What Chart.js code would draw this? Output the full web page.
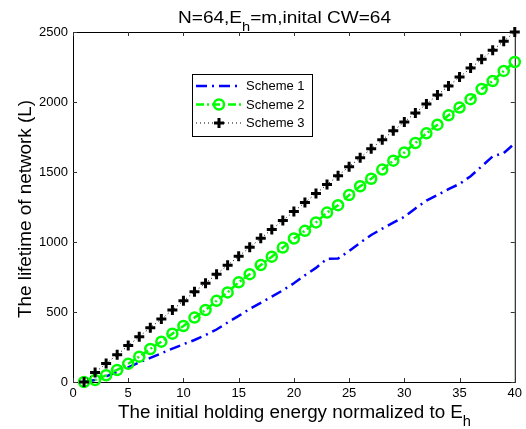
<!DOCTYPE html>
<html>
<head>
<meta charset="utf-8">
<script src="https://cdn.jsdelivr.net/npm/chart.js@4.4.1/dist/chart.umd.min.js"></script>
<style>
  html, body { margin: 0; padding: 0; background: #fff; }
  #wrap { width: 526px; height: 429px; }
</style>
</head>
<body>
<div id="wrap"><canvas id="lifeChart" width="526" height="429"></canvas></div>
<script>
const xValues = [1, 2, 3, 4, 5, 6, 7, 8, 9, 10, 11, 12, 13, 14, 15, 16, 17, 18, 19, 20,
                 21, 22, 23, 24, 25, 26, 27, 28, 29, 30, 31, 32, 33, 34, 35, 36, 37, 38, 39, 40];
const scheme1 = [0, 15, 40, 72, 105, 140, 172, 205, 238, 270, 300, 335, 375, 425, 472, 522, 565, 610, 655, 705,
                 762, 815, 880, 882, 935, 995, 1050, 1095, 1138, 1180, 1240, 1295, 1335, 1378, 1415, 1470, 1540, 1612, 1635, 1705];
const scheme2 = [0, 14, 48, 86, 130, 181, 236, 288, 345, 400, 460, 514, 580, 640, 712, 770, 835, 895, 960, 1025,
                 1080, 1140, 1210, 1263, 1335, 1398, 1452, 1517, 1581, 1640, 1707, 1776, 1838, 1905, 1960, 2020, 2093, 2150, 2222, 2286];
const scheme3 = [0, 68, 132, 194, 260, 324, 388, 450, 514, 580, 644, 706, 770, 834, 898, 962, 1026, 1090, 1154, 1218,
                 1282, 1346, 1410, 1474, 1538, 1602, 1666, 1730, 1794, 1858, 1922, 1986, 2050, 2114, 2178, 2242, 2306, 2370, 2434, 2500];
const seriesNames = ['Scheme 1', 'Scheme 2', 'Scheme 3'];
const xTicks = [0, 5, 10, 15, 20, 25, 30, 35, 40];
const yTicks = [0, 500, 1000, 1500, 2000, 2500];

const FONT = "'Liberation Sans', Arial, Helvetica, sans-serif";

function toPoints(ys) {
    return xValues.map((x, i) => ({ x: x, y: ys[i] }));
}

// draws text made of normal/subscript parts, stretched to a target width
function drawParts(ctx, parts, x, y, size, subSize, width) {
    let total = 0;
    parts.forEach(p => {
        ctx.font = (p.sub ? subSize : size) + 'px ' + FONT;
        p.w = ctx.measureText(p.t).width;
        total += p.w;
    });
    const sx = width / total;
    ctx.save();
    ctx.translate(x, y);
    ctx.scale(sx, 1);
    ctx.fillStyle = '#000';
    ctx.textBaseline = 'alphabetic';
    ctx.textAlign = 'left';
    let cx = 0;
    parts.forEach(p => {
        ctx.font = (p.sub ? subSize : size) + 'px ' + FONT;
        ctx.fillText(p.t, cx, p.sub ? 8 : 0);
        cx += p.w;
    });
    ctx.restore();
}

const matlabAxes = {
    id: 'matlabAxes',
    beforeDatasetsDraw(chart) {
        const { ctx, chartArea: a, scales } = chart;
        ctx.save();
        ctx.strokeStyle = '#000';
        ctx.lineWidth = 1;
        ctx.strokeRect(a.left + 0.5, a.top + 0.5, a.right - a.left, a.bottom - a.top);
        ctx.strokeStyle = '#333';
        ctx.beginPath();
        xTicks.forEach(v => {
            const px = Math.round(scales.x.getPixelForValue(v)) + 0.5;
            ctx.moveTo(px, a.bottom); ctx.lineTo(px, a.bottom - 4);
            ctx.moveTo(px, a.top); ctx.lineTo(px, a.top + 4);
        });
        yTicks.forEach(v => {
            const py = Math.round(scales.y.getPixelForValue(v)) + 0.5;
            ctx.moveTo(a.left, py); ctx.lineTo(a.left + 4, py);
            ctx.moveTo(a.right, py); ctx.lineTo(a.right - 4, py);
        });
        ctx.stroke();
        ctx.restore();
    },
    afterDraw(chart) {
        const ctx = chart.ctx;
        // title
        drawParts(ctx, [{ t: 'N=64,E' }, { t: 'h', sub: true }, { t: '=m,inital CW=64' }], 178, 23, 17, 13, 213);
        // x label
        drawParts(ctx, [{ t: 'The initial holding energy normalized to E' }, { t: 'h', sub: true }], 118, 418, 18, 14, 353);
        // y label
        ctx.save();
        ctx.translate(31, 318);
        ctx.rotate(-Math.PI / 2);
        drawParts(ctx, [{ t: 'The lifetime of network (L)' }], 0, 0, 18, 14, 218);
        ctx.restore();

        // legend
        const L = { x: 192, y: 74, w: 120, h: 62 };
        ctx.save();
        ctx.fillStyle = '#fff';
        ctx.fillRect(L.x, L.y, L.w, L.h);
        ctx.strokeStyle = '#000';
        ctx.lineWidth = 1;
        ctx.strokeRect(L.x + 0.5, L.y + 0.5, L.w, L.h);
        const rows = [86, 104.5, 123];
        chart.data.datasets.forEach((ds, i) => {
            const y = rows[i];
            ctx.save();
            ctx.strokeStyle = ds.borderColor;
            ctx.lineWidth = ds.borderWidth;
            ctx.setLineDash(ds.borderDash);
            ctx.beginPath();
            ctx.moveTo(196, y); ctx.lineTo(242, y);
            ctx.stroke();
            ctx.setLineDash([]);
            if (ds.pointRadius > 0) {
                ctx.lineWidth = ds.pointBorderWidth;
                ctx.strokeStyle = ds.pointBorderColor;
                ctx.beginPath();
                if (ds.pointStyle === 'cross') {
                    ctx.moveTo(219 - ds.pointRadius, y); ctx.lineTo(219 + ds.pointRadius, y);
                    ctx.moveTo(219, y - ds.pointRadius); ctx.lineTo(219, y + ds.pointRadius);
                } else {
                    ctx.arc(219, y, ds.pointRadius, 0, Math.PI * 2);
                }
                ctx.stroke();
            }
            ctx.restore();
            ctx.fillStyle = '#000';
            ctx.font = '13px ' + FONT;
            ctx.textBaseline = 'middle';
            ctx.textAlign = 'left';
            ctx.fillText(ds.label, 246, y + 0.5);
        });
        ctx.restore();
    }
};

const ctx = document.getElementById('lifeChart').getContext('2d');
const chart = new Chart(ctx, {
    type: 'line',
    data: {
        datasets: [
            {
                label: seriesNames[0],
                data: toPoints(scheme1),
                borderColor: '#0000ff',
                borderWidth: 2.5,
                borderDash: [11, 5, 2, 5],
                pointRadius: 0,
                pointBorderColor: '#0000ff',
                pointBorderWidth: 0,
                order: 2,
                clip: false
            },
            {
                label: seriesNames[1],
                data: toPoints(scheme2),
                borderColor: '#00ff00',
                borderWidth: 2.5,
                borderDash: [8, 3, 2, 3],
                pointStyle: 'circle',
                pointRadius: 5,
                pointBorderWidth: 2.5,
                pointBorderColor: '#00ff00',
                pointBackgroundColor: 'rgba(0,0,0,0)',
                order: 1,
                clip: false
            },
            {
                label: seriesNames[2],
                data: toPoints(scheme3),
                borderColor: '#000000',
                borderWidth: 1,
                borderDash: [1, 3],
                pointStyle: 'cross',
                pointRadius: 5,
                pointBorderWidth: 3,
                pointBorderColor: '#000000',
                order: 0,
                clip: false
            }
        ]
    },
    options: {
        responsive: false,
        animation: false,
        layout: { padding: { left: 0, right: 8, top: 32, bottom: 0 } },
        plugins: {
            legend: { display: false },
            title: { display: false },
            tooltip: { enabled: false }
        },
        scales: {
            x: {
                type: 'linear',
                min: 0,
                max: 40,
                afterFit: s => { s.height = 47; },
                afterBuildTicks: s => { s.ticks = xTicks.map(v => ({ value: v })); },
                grid: { display: false, drawTicks: false },
                border: { display: false },
                ticks: { color: '#000', font: { family: FONT, size: 13 }, padding: 4, maxRotation: 0,
                         callback: v => String(v) }
            },
            y: {
                type: 'linear',
                min: 0,
                max: 2500,
                afterFit: s => { s.width = 73; },
                afterBuildTicks: s => { s.ticks = yTicks.map(v => ({ value: v })); },
                grid: { display: false, drawTicks: false },
                border: { display: false },
                ticks: { color: '#000', font: { family: FONT, size: 13 }, padding: 5,
                         callback: v => String(v) }
            }
        }
    },
    plugins: [matlabAxes]
});
</script>
</body>
</html>
